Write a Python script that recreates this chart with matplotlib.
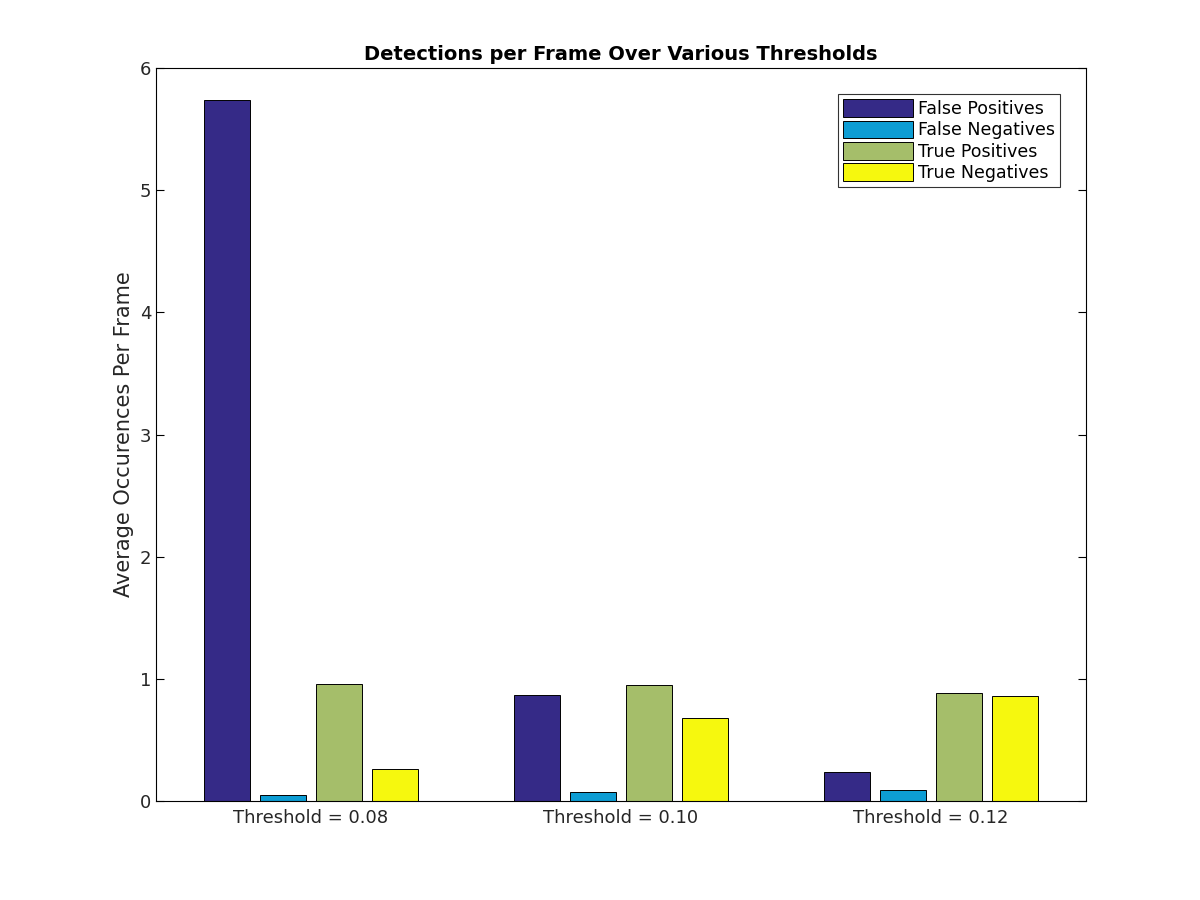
import numpy as np
import matplotlib.pyplot as plt

groups = ['Threshold = 0.08', 'Threshold = 0.10', 'Threshold = 0.12']
series = ['False Positives', 'False Negatives', 'True Positives', 'True Negatives']
false_pos = [5.74, 0.87, 0.24]
false_neg = [0.05, 0.07, 0.09]
true_pos = [0.96, 0.95, 0.88]
true_neg = [0.26, 0.68, 0.86]
colors = ['#352a87', '#0d9dd4', '#a5be6a', '#f6f80e']

fig = plt.figure(figsize=(12, 9), dpi=100)
ax = fig.add_axes([0.13, 0.11, 0.775, 0.8144])
x = np.arange(1, len(groups) + 1)
offsets = [-0.27, -0.09, 0.09, 0.27]
for vals, off, c, name in zip([false_pos, false_neg, true_pos, true_neg], offsets, colors, series):
    ax.bar(x + off, vals, width=0.148, color=c, edgecolor='black', linewidth=0.7, label=name)

ax.set_xlim(0.5, 3.5)
ax.set_ylim(0, 6)
ax.set_xticks(x)
ax.set_xticklabels(groups, fontsize=13, color='#262626')
ax.set_yticks(range(7))
ax.tick_params(axis='y', labelsize=13, labelcolor='#262626', direction='in', right=True, length=6)
ax.tick_params(axis='x', direction='in', length=0, pad=6)
ax.set_ylabel('Average Occurences Per Frame', fontsize=15, color='#262626')
ax.set_title('Detections per Frame Over Various Thresholds', fontsize=14, fontweight='bold')
leg = ax.legend(loc='upper right', fontsize=12.5, fancybox=False, edgecolor='black',
                borderaxespad=1.5, handlelength=4, handleheight=1.2, handletextpad=0.3,
                labelspacing=0.15, borderpad=0.3)
leg.get_frame().set_linewidth(0.8)
fig.savefig('out.png')
